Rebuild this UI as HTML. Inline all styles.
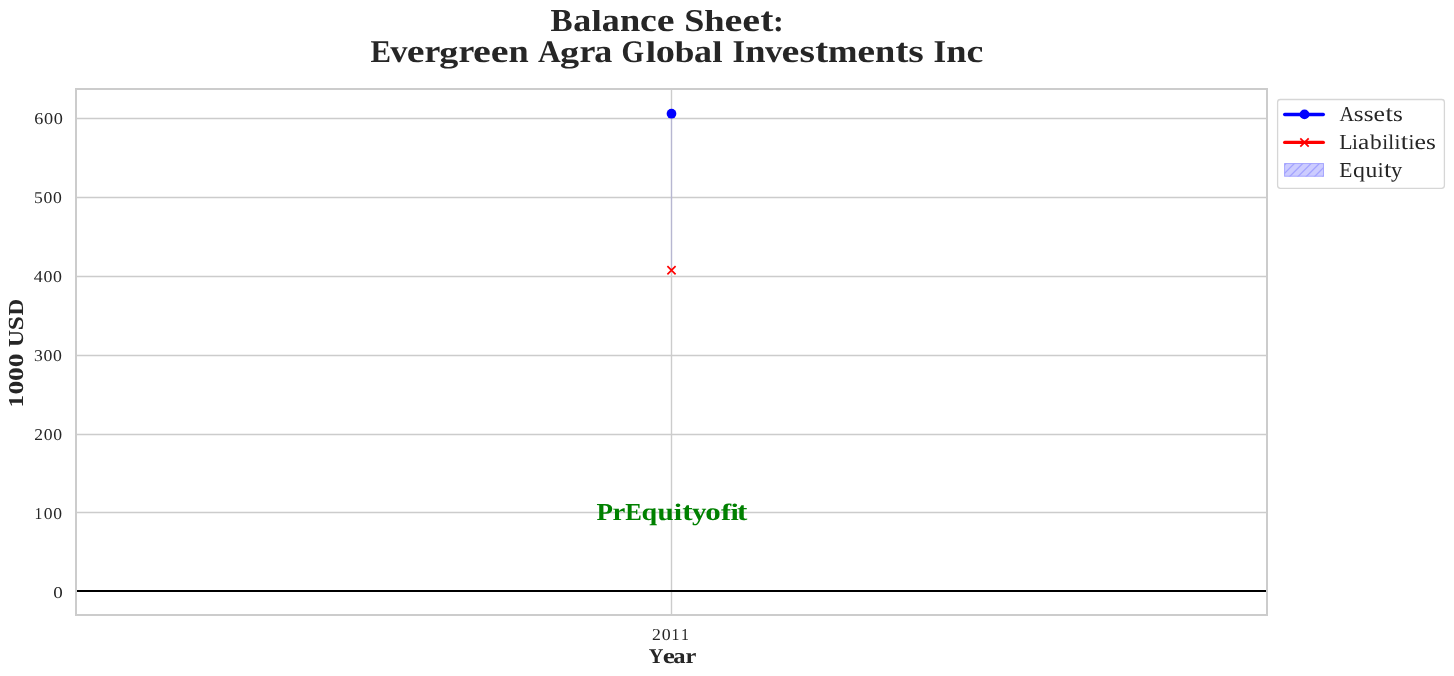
<!DOCTYPE html>
<html>
<head>
<meta charset="utf-8">
<style>
html,body{margin:0;padding:0;background:#ffffff;}
body{width:1454px;height:676px;overflow:hidden;}
svg{display:block;will-change:transform;}
text{font-family:"Liberation Serif", serif;text-rendering:geometricPrecision;}
</style>
</head>
<body>
<svg width="1454" height="676" viewBox="0 0 1454 676">
<defs>
<clipPath id="lgclip"><rect x="1284.2" y="163.15" width="39.7" height="13.45"/></clipPath>
</defs>
<rect x="0" y="0" width="1454" height="676" fill="#ffffff"/>

<!-- grid -->
<g stroke="#cccccc" stroke-width="1.4" fill="none">
<line x1="76" y1="118.5" x2="1267" y2="118.5"/>
<line x1="76" y1="197.5" x2="1267" y2="197.5"/>
<line x1="76" y1="276.5" x2="1267" y2="276.5"/>
<line x1="76" y1="355.5" x2="1267" y2="355.5"/>
<line x1="76" y1="434.5" x2="1267" y2="434.5"/>
<line x1="76" y1="512.5" x2="1267" y2="512.5"/>
<line x1="671.5" y1="89" x2="671.5" y2="615"/>
</g>

<!-- equity (degenerate fill) -->
<line x1="671.5" y1="113.7" x2="671.5" y2="270.3" stroke="#0000ff" stroke-opacity="0.1" stroke-width="1.4"/>

<!-- zero line -->
<line x1="77" y1="591" x2="1266" y2="591" stroke="#000000" stroke-width="2.05"/>

<!-- spines -->
<rect x="76" y="89" width="1191" height="526" fill="none" stroke="#cccccc" stroke-width="2"/>

<!-- markers -->
<circle cx="671.5" cy="113.7" r="4.85" fill="#0000ff"/>
<path d="M667.4,266.2 L675.6,274.4 M675.6,266.2 L667.4,274.4" stroke="#ff0000" stroke-width="1.7" fill="none"/>

<!-- legend -->
<rect x="1277.6" y="99.5" width="166.8" height="88.9" rx="2.8" ry="2.8" fill="#ffffff" stroke="#d6d6d6" stroke-width="1.3"/>
<line x1="1284.7" y1="114.5" x2="1323.3" y2="114.5" stroke="#0000ff" stroke-width="3.4" stroke-linecap="round"/>
<circle cx="1304.5" cy="114.4" r="4.9" fill="#0000ff"/>
<line x1="1284.7" y1="142.4" x2="1323.3" y2="142.4" stroke="#ff0000" stroke-width="3.4" stroke-linecap="round"/>
<path d="M1300.3,138.3 L1308.7,146.7 M1308.7,138.3 L1300.3,146.7" stroke="#ff0000" stroke-width="1.7" fill="none"/>
<rect x="1284.2" y="163.15" width="39.7" height="13.45" fill="#ccccff"/>
<g clip-path="url(#lgclip)" stroke="#a3a3ff" stroke-width="1.3">
<line x1="1264.53" y1="185" x2="1291.53" y2="158"/>
<line x1="1272.87" y1="185" x2="1299.87" y2="158"/>
<line x1="1281.20" y1="185" x2="1308.20" y2="158"/>
<line x1="1289.53" y1="185" x2="1316.53" y2="158"/>
<line x1="1297.87" y1="185" x2="1324.87" y2="158"/>
<line x1="1306.20" y1="185" x2="1333.20" y2="158"/>
<line x1="1314.53" y1="185" x2="1341.53" y2="158"/>
<line x1="1322.86" y1="185" x2="1349.86" y2="158"/>
</g>
<rect x="1284.65" y="163.6" width="38.8" height="12.55" fill="none" stroke="#a3a3ff" stroke-width="0.9"/>

<!-- texts -->
<text transform="matrix(0.3324,0,0,0.32,550.4183,30.9)" font-size="100" font-weight="bold" fill="#262626">B</text>
<text transform="matrix(0.3603,0,0,0.3253,573.174,30.9)" font-size="100" font-weight="bold" fill="#262626">a</text>
<text transform="matrix(0.3716,0,0,0.3029,591.5191,30.9)" font-size="100" font-weight="bold" fill="#262626">l</text>
<text transform="matrix(0.3603,0,0,0.3253,601.8167,30.9)" font-size="100" font-weight="bold" fill="#262626">a</text>
<text transform="matrix(0.3643,0,0,0.3253,619.9031,30.9)" font-size="100" font-weight="bold" fill="#262626">n</text>
<text transform="matrix(0.3782,0,0,0.3253,639.9816,30.9)" font-size="100" font-weight="bold" fill="#262626">c</text>
<text transform="matrix(0.4007,0,0,0.3253,656.8709,30.9)" font-size="100" font-weight="bold" fill="#262626">e</text>
<text transform="matrix(0.3626,0,0,0.317,684.1965,30.9)" font-size="100" font-weight="bold" fill="#262626">S</text>
<text transform="matrix(0.3659,0,0,0.3029,704.3674,30.9)" font-size="100" font-weight="bold" fill="#262626">h</text>
<text transform="matrix(0.4014,0,0,0.3253,724.4516,30.9)" font-size="100" font-weight="bold" fill="#262626">e</text>
<text transform="matrix(0.4014,0,0,0.3253,742.2118,30.9)" font-size="100" font-weight="bold" fill="#262626">e</text>
<text transform="matrix(0.3863,0,0,0.3459,760.3785,30.9)" font-size="100" font-weight="bold" fill="#262626">t</text>
<text transform="matrix(0.3228,0,0,0.2992,773.0732,30.9)" font-size="100" font-weight="bold" fill="#262626">:</text>
<text transform="matrix(0.3078,0,0,0.3176,370.4613,61.8)" font-size="100" font-weight="bold" fill="#262626">E</text>
<text transform="matrix(0.3456,0,0,0.3234,390.3561,61.8)" font-size="100" font-weight="bold" fill="#262626">v</text>
<text transform="matrix(0.3992,0,0,0.3241,406.6863,61.8)" font-size="100" font-weight="bold" fill="#262626">e</text>
<text transform="matrix(0.3567,0,0,0.3224,424.4882,61.8)" font-size="100" font-weight="bold" fill="#262626">r</text>
<text transform="matrix(0.3812,0,0,0.2972,439.3254,61.8)" font-size="100" font-weight="bold" fill="#262626">g</text>
<text transform="matrix(0.3567,0,0,0.3224,458.5265,61.8)" font-size="100" font-weight="bold" fill="#262626">r</text>
<text transform="matrix(0.3992,0,0,0.3241,473.0148,61.8)" font-size="100" font-weight="bold" fill="#262626">e</text>
<text transform="matrix(0.3992,0,0,0.3241,490.6781,61.8)" font-size="100" font-weight="bold" fill="#262626">e</text>
<text transform="matrix(0.3629,0,0,0.3241,508.6017,61.8)" font-size="100" font-weight="bold" fill="#262626">n</text>
<text transform="matrix(0.3146,0,0,0.3152,537.8854,61.8)" font-size="100" font-weight="bold" fill="#262626">A</text>
<text transform="matrix(0.383,0,0,0.2972,560.1187,61.8)" font-size="100" font-weight="bold" fill="#262626">g</text>
<text transform="matrix(0.3585,0,0,0.3224,579.4149,61.8)" font-size="100" font-weight="bold" fill="#262626">r</text>
<text transform="matrix(0.3607,0,0,0.3241,594.2068,61.8)" font-size="100" font-weight="bold" fill="#262626">a</text>
<text transform="matrix(0.291,0,0,0.3146,621.5452,61.8)" font-size="100" font-weight="bold" fill="#262626">G</text>
<text transform="matrix(0.3707,0,0,0.3007,645.7956,61.8)" font-size="100" font-weight="bold" fill="#262626">l</text>
<text transform="matrix(0.3844,0,0,0.3241,655.7972,61.8)" font-size="100" font-weight="bold" fill="#262626">o</text>
<text transform="matrix(0.3527,0,0,0.3007,674.8563,61.8)" font-size="100" font-weight="bold" fill="#262626">b</text>
<text transform="matrix(0.3595,0,0,0.3241,694.057,61.8)" font-size="100" font-weight="bold" fill="#262626">a</text>
<text transform="matrix(0.3707,0,0,0.3007,712.3611,61.8)" font-size="100" font-weight="bold" fill="#262626">l</text>
<text transform="matrix(0.3237,0,0,0.3176,732.5478,61.8)" font-size="100" font-weight="bold" fill="#262626">I</text>
<text transform="matrix(0.364,0,0,0.3241,745.2749,61.8)" font-size="100" font-weight="bold" fill="#262626">n</text>
<text transform="matrix(0.3466,0,0,0.3234,765.0574,61.8)" font-size="100" font-weight="bold" fill="#262626">v</text>
<text transform="matrix(0.4003,0,0,0.3241,781.435,61.8)" font-size="100" font-weight="bold" fill="#262626">e</text>
<text transform="matrix(0.3989,0,0,0.3241,799.4236,61.8)" font-size="100" font-weight="bold" fill="#262626">s</text>
<text transform="matrix(0.3853,0,0,0.3436,815.2306,61.8)" font-size="100" font-weight="bold" fill="#262626">t</text>
<text transform="matrix(0.3536,0,0,0.3241,827.9754,61.8)" font-size="100" font-weight="bold" fill="#262626">m</text>
<text transform="matrix(0.4003,0,0,0.3241,857.1463,61.8)" font-size="100" font-weight="bold" fill="#262626">e</text>
<text transform="matrix(0.364,0,0,0.3241,875.122,61.8)" font-size="100" font-weight="bold" fill="#262626">n</text>
<text transform="matrix(0.3853,0,0,0.3436,895.5098,61.8)" font-size="100" font-weight="bold" fill="#262626">t</text>
<text transform="matrix(0.3989,0,0,0.3241,908.2389,61.8)" font-size="100" font-weight="bold" fill="#262626">s</text>
<text transform="matrix(0.3244,0,0,0.3176,933.5457,61.8)" font-size="100" font-weight="bold" fill="#262626">I</text>
<text transform="matrix(0.3647,0,0,0.3241,946.298,61.8)" font-size="100" font-weight="bold" fill="#262626">n</text>
<text transform="matrix(0.3786,0,0,0.3241,966.3985,61.8)" font-size="100" font-weight="bold" fill="#262626">c</text>
<text transform="matrix(0.2035,0,0,0.2117,648.7438,662.9)" font-size="100" font-weight="bold" fill="#262626">Y</text>
<text transform="matrix(0.2737,0,0,0.2153,662.682,662.9)" font-size="100" font-weight="bold" fill="#262626">e</text>
<text transform="matrix(0.2461,0,0,0.2153,673.2966,662.9)" font-size="100" font-weight="bold" fill="#262626">a</text>
<text transform="matrix(0.2446,0,0,0.2141,685.5674,662.9)" font-size="100" font-weight="bold" fill="#262626">r</text>
<text transform="matrix(0.177,0,0,0.1677,652.0033,639.8)" font-size="100" font-weight="normal" fill="#262626">2</text>
<text transform="matrix(0.179,0,0,0.167,661.6773,639.8)" font-size="100" font-weight="normal" fill="#262626">0</text>
<text transform="matrix(0.1592,0,0,0.1683,671.4081,639.8)" font-size="100" font-weight="normal" fill="#262626">1</text>
<text transform="matrix(0.1592,0,0,0.1683,680.9944,639.8)" font-size="100" font-weight="normal" fill="#262626">1</text>
<text transform="matrix(0.2702,0,0,0.2431,596.4271,520.1)" font-size="100" font-weight="bold" fill="#008000">P</text>
<text transform="matrix(0.2885,0,0,0.2458,612.5967,520.1)" font-size="100" font-weight="bold" fill="#008000">r</text>
<text transform="matrix(0.2489,0,0,0.2431,625.1767,520.1)" font-size="100" font-weight="bold" fill="#008000">E</text>
<text transform="matrix(0.2809,0,0,0.242,641.4338,520.1)" font-size="100" font-weight="bold" fill="#008000">q</text>
<text transform="matrix(0.2921,0,0,0.2466,657.4254,520.1)" font-size="100" font-weight="bold" fill="#008000">u</text>
<text transform="matrix(0.2994,0,0,0.2393,673.7949,520.1)" font-size="100" font-weight="bold" fill="#008000">i</text>
<text transform="matrix(0.3107,0,0,0.2625,682.307,520.1)" font-size="100" font-weight="bold" fill="#008000">t</text>
<text transform="matrix(0.2888,0,0,0.2466,692.0132,520.1)" font-size="100" font-weight="bold" fill="#008000">y</text>
<text transform="matrix(0.3104,0,0,0.2471,705.3628,520.1)" font-size="100" font-weight="bold" fill="#008000">o</text>
<text transform="matrix(0.3049,0,0,0.2351,721.0488,520.1)" font-size="100" font-weight="bold" fill="#008000">f</text>
<text transform="matrix(0.2994,0,0,0.2393,730.375,520.1)" font-size="100" font-weight="bold" fill="#008000">i</text>
<text transform="matrix(0.3107,0,0,0.2625,737.0234,520.1)" font-size="100" font-weight="bold" fill="#008000">t</text>
<text transform="matrix(0.2024,0,0,0.2124,1339.4976,120.9)" font-size="100" font-weight="normal" fill="#262626">A</text>
<text transform="matrix(0.2523,0,0,0.2176,1353.824,120.9)" font-size="100" font-weight="normal" fill="#262626">s</text>
<text transform="matrix(0.2523,0,0,0.2176,1363.753,120.9)" font-size="100" font-weight="normal" fill="#262626">s</text>
<text transform="matrix(0.2575,0,0,0.2176,1373.5644,120.9)" font-size="100" font-weight="normal" fill="#262626">e</text>
<text transform="matrix(0.269,0,0,0.2311,1385.3882,120.9)" font-size="100" font-weight="normal" fill="#262626">t</text>
<text transform="matrix(0.2523,0,0,0.2176,1392.9069,120.9)" font-size="100" font-weight="normal" fill="#262626">s</text>
<text transform="matrix(0.2178,0,0,0.214,1339.3465,149)" font-size="100" font-weight="normal" fill="#262626">L</text>
<text transform="matrix(0.2118,0,0,0.2131,1352.0481,149)" font-size="100" font-weight="normal" fill="#262626">i</text>
<text transform="matrix(0.2537,0,0,0.2176,1358.0677,149)" font-size="100" font-weight="normal" fill="#262626">a</text>
<text transform="matrix(0.2345,0,0,0.21,1370.1135,149)" font-size="100" font-weight="normal" fill="#262626">b</text>
<text transform="matrix(0.2118,0,0,0.2131,1382.1827,149)" font-size="100" font-weight="normal" fill="#262626">i</text>
<text transform="matrix(0.212,0,0,0.21,1388.279,149)" font-size="100" font-weight="normal" fill="#262626">l</text>
<text transform="matrix(0.2118,0,0,0.2131,1394.5697,149)" font-size="100" font-weight="normal" fill="#262626">i</text>
<text transform="matrix(0.2693,0,0,0.2311,1400.8207,149)" font-size="100" font-weight="normal" fill="#262626">t</text>
<text transform="matrix(0.2118,0,0,0.2131,1408.5452,149)" font-size="100" font-weight="normal" fill="#262626">i</text>
<text transform="matrix(0.2578,0,0,0.2176,1414.4217,149)" font-size="100" font-weight="normal" fill="#262626">e</text>
<text transform="matrix(0.2525,0,0,0.2176,1425.9991,149)" font-size="100" font-weight="normal" fill="#262626">s</text>
<text transform="matrix(0.2149,0,0,0.2125,1339.3552,177.06)" font-size="100" font-weight="normal" fill="#262626">E</text>
<text transform="matrix(0.2396,0,0,0.2115,1353.0425,177.06)" font-size="100" font-weight="normal" fill="#262626">q</text>
<text transform="matrix(0.2363,0,0,0.2155,1365.4116,177.06)" font-size="100" font-weight="normal" fill="#262626">u</text>
<text transform="matrix(0.2094,0,0,0.2115,1377.7632,177.06)" font-size="100" font-weight="normal" fill="#262626">i</text>
<text transform="matrix(0.2662,0,0,0.2295,1383.9439,177.06)" font-size="100" font-weight="normal" fill="#262626">t</text>
<text transform="matrix(0.2242,0,0,0.2155,1391.0021,177.06)" font-size="100" font-weight="normal" fill="#262626">y</text>
<text transform="matrix(0,-0.2503,0.2123,0,23.1,407.5021)" font-size="100" font-weight="bold" fill="#262626">1</text>
<text transform="matrix(0,-0.2759,0.2107,0,23.1,394.4506)" font-size="100" font-weight="bold" fill="#262626">0</text>
<text transform="matrix(0,-0.2759,0.2107,0,23.1,380.9065)" font-size="100" font-weight="bold" fill="#262626">0</text>
<text transform="matrix(0,-0.2759,0.2107,0,23.1,367.3624)" font-size="100" font-weight="bold" fill="#262626">0</text>
<text transform="matrix(0,-0.2356,0.214,0,23.1,347.039)" font-size="100" font-weight="bold" fill="#262626">U</text>
<text transform="matrix(0,-0.2525,0.2152,0,23.1,330.2394)" font-size="100" font-weight="bold" fill="#262626">S</text>
<text transform="matrix(0,-0.2308,0.214,0,23.1,315.6184)" font-size="100" font-weight="bold" fill="#262626">D</text>
<text transform="matrix(0.1817,0,0,0.1646,34.1278,123.6)" font-size="100" font-weight="normal" fill="#262626">6</text>
<text transform="matrix(0.1828,0,0,0.164,43.9619,123.6)" font-size="100" font-weight="normal" fill="#262626">0</text>
<text transform="matrix(0.1828,0,0,0.164,53.7476,123.6)" font-size="100" font-weight="normal" fill="#262626">0</text>
<text transform="matrix(0.1759,0,0,0.1637,33.9884,202.6)" font-size="100" font-weight="normal" fill="#262626">5</text>
<text transform="matrix(0.1771,0,0,0.164,43.5225,202.6)" font-size="100" font-weight="normal" fill="#262626">0</text>
<text transform="matrix(0.1771,0,0,0.164,53.0074,202.6)" font-size="100" font-weight="normal" fill="#262626">0</text>
<text transform="matrix(0.1798,0,0,0.1659,33.7405,281.6)" font-size="100" font-weight="normal" fill="#262626">4</text>
<text transform="matrix(0.179,0,0,0.164,43.5393,281.6)" font-size="100" font-weight="normal" fill="#262626">0</text>
<text transform="matrix(0.179,0,0,0.164,53.1225,281.6)" font-size="100" font-weight="normal" fill="#262626">0</text>
<text transform="matrix(0.1765,0,0,0.1646,33.9615,360.6)" font-size="100" font-weight="normal" fill="#262626">3</text>
<text transform="matrix(0.1775,0,0,0.164,43.4883,360.6)" font-size="100" font-weight="normal" fill="#262626">0</text>
<text transform="matrix(0.1775,0,0,0.164,52.9916,360.6)" font-size="100" font-weight="normal" fill="#262626">0</text>
<text transform="matrix(0.1748,0,0,0.1646,34.2136,439.6)" font-size="100" font-weight="normal" fill="#262626">2</text>
<text transform="matrix(0.1767,0,0,0.164,43.7632,439.6)" font-size="100" font-weight="normal" fill="#262626">0</text>
<text transform="matrix(0.1767,0,0,0.164,53.2263,439.6)" font-size="100" font-weight="normal" fill="#262626">0</text>
<text transform="matrix(0.1567,0,0,0.1653,34.5292,518.6)" font-size="100" font-weight="normal" fill="#262626">1</text>
<text transform="matrix(0.1762,0,0,0.164,43.8197,518.6)" font-size="100" font-weight="normal" fill="#262626">0</text>
<text transform="matrix(0.1762,0,0,0.164,53.2525,518.6)" font-size="100" font-weight="normal" fill="#262626">0</text>
<text transform="matrix(0.1906,0,0,0.164,53.1853,597.6)" font-size="100" font-weight="normal" fill="#262626">0</text>
</svg>
</body>
</html>
